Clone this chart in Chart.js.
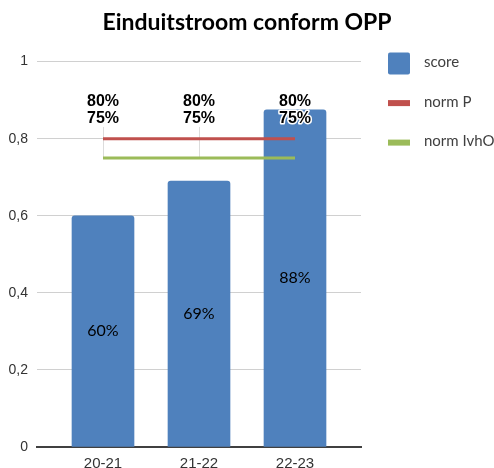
<!DOCTYPE html>
<html lang="nl">
<head>
<meta charset="UTF-8" />
<title>Einduitstroom conform OPP</title>
<script src="https://cdn.jsdelivr.net/npm/chart.js"></script>
<style>
    * { margin: 0; padding: 0; box-sizing: border-box; }
    body { background: #fff; }
</style>
</head>
<body>
<canvas id="chart" width="494" height="468"></canvas>
<script>
const categories = ['20-21', '21-22', '22-23'];
const score = [0.60, 0.69, 0.875];
const normP = [0.80, 0.80, 0.80];
const normIvhO = [0.75, 0.75, 0.75];
const yTicks = [0, 0.2, 0.4, 0.6, 0.8, 1];

const pct = v => Math.round(v * 100) + '%';
const toXY = arr => arr.map((v, i) => ({ x: i, y: v }));

// percentages in de balken en boven de normlijnen
const valueLabels = {
    id: 'valueLabels',
    beforeDatasetsDraw(chart) {
        // dunne hulplijntjes van label naar punt
        const ctx = chart.ctx;
        ctx.save();
        ctx.strokeStyle = '#dcdcdc';
        ctx.lineWidth = 1;
        chart.data.datasets.forEach((ds, i) => {
            if (!ds.leader) return;
            chart.getDatasetMeta(i).data.forEach(el => {
                const x = Math.round(el.x) + 0.5;
                ctx.beginPath();
                ctx.moveTo(x, el.y - ds.labelOffset + 8);
                ctx.lineTo(x, el.y);
                ctx.stroke();
            });
        });
        ctx.restore();
    },
    afterDatasetsDraw(chart) {
        const ctx = chart.ctx;
        ctx.save();
        ctx.textAlign = 'center';
        ctx.textBaseline = 'middle';
        chart.data.datasets.forEach((ds, i) => {
            chart.getDatasetMeta(i).data.forEach((el, j) => {
                const text = pct(ds.data[j].y);
                if (ds.type === 'bar') {
                    ctx.font = '16px Lato';
                    ctx.fillStyle = '#000';
                    ctx.fillText(text, el.x, (el.y + el.base) / 2);
                } else {
                    const y = el.y - ds.labelOffset;
                    ctx.font = 'bold 16px "Liberation Sans"';
                    ctx.lineWidth = 3;
                    ctx.lineJoin = 'round';
                    ctx.strokeStyle = '#fff';
                    ctx.strokeText(text, el.x, y);
                    ctx.fillStyle = '#000';
                    ctx.fillText(text, el.x, y);
                }
            });
        });
        ctx.restore();
    }
};

// legenda rechts naast de grafiek
const sideLegend = {
    id: 'sideLegend',
    afterDraw(chart) {
        const ctx = chart.ctx;
        const x = chart.chartArea.right + 27;
        ctx.save();
        ctx.textBaseline = 'middle';
        ctx.font = '15px Lato';
        chart.data.datasets.forEach((ds, i) => {
            const cy = chart.chartArea.top + 1 + i * 39.5;
            if (ds.type === 'bar') {
                ctx.fillStyle = ds.backgroundColor;
                ctx.beginPath();
                ctx.roundRect(x, cy - 10, 22, 22, 2);
                ctx.fill();
            } else {
                ctx.fillStyle = ds.borderColor;
                ctx.fillRect(x, cy - 2, 22, 6);
            }
            ctx.fillStyle = '#404040';
            ctx.fillText(ds.label, x + 36, cy);
        });
        ctx.restore();
    }
};

new Chart(document.getElementById('chart'), {
    data: {
        datasets: [
            {
                type: 'bar',
                label: 'score',
                data: toXY(score),
                backgroundColor: '#4f81bd',
                barThickness: 62,
                borderRadius: { topLeft: 3, topRight: 3 },
                borderSkipped: 'bottom',
                order: 3
            },
            {
                type: 'line',
                label: 'norm P',
                data: toXY(normP),
                borderColor: '#c0504d',
                borderWidth: 3,
                pointRadius: 0,
                labelOffset: 37,
                order: 2
            },
            {
                type: 'line',
                label: 'norm IvhO',
                data: toXY(normIvhO),
                borderColor: '#9bbb59',
                borderWidth: 3,
                pointRadius: 0,
                labelOffset: 39,
                leader: true,
                order: 1
            }
        ]
    },
    options: {
        responsive: false,
        animation: false,
        layout: { padding: 0 },
        plugins: {
            legend: { display: false },
            tooltip: { enabled: false },
            title: {
                display: true,
                text: 'Einduitstroom conform OPP',
                color: '#000',
                font: { family: 'Lato', size: 23, weight: 'bold' },
                padding: { top: 9, bottom: 25 }
            }
        },
        scales: {
            x: {
                type: 'linear',
                offset: false,
                min: -0.6875,
                max: 2.6875,
                afterBuildTicks: s => { s.ticks = categories.map((c, i) => ({ value: i })); },
                afterFit: s => { s.height = 21; },
                ticks: {
                    callback: v => categories[v],
                    color: '#333',
                    font: { family: 'Liberation Sans', size: 15 },
                    padding: 0
                },
                grid: { display: false },
                border: { color: '#404040', width: 2 }
            },
            y: {
                min: 0,
                max: 1,
                afterBuildTicks: s => { s.ticks = yTicks.map(v => ({ value: v })); },
                afterFit: s => { s.width = 37; },
                ticks: {
                    callback: v => String(v).replace('.', ','),
                    color: '#333',
                    font: { family: 'Liberation Sans', size: 14 },
                    padding: 9
                },
                grid: { color: '#d0d0d0', drawTicks: false },
                border: { display: false }
            },
            // lege as rechts: ruimte voor de legenda
            legendSpace: {
                type: 'linear',
                position: 'right',
                afterFit: s => { s.width = 133; },
                ticks: { display: false },
                grid: { display: false },
                border: { display: false }
            }
        }
    },
    plugins: [valueLabels, sideLegend]
});
</script>
</body>
</html>
